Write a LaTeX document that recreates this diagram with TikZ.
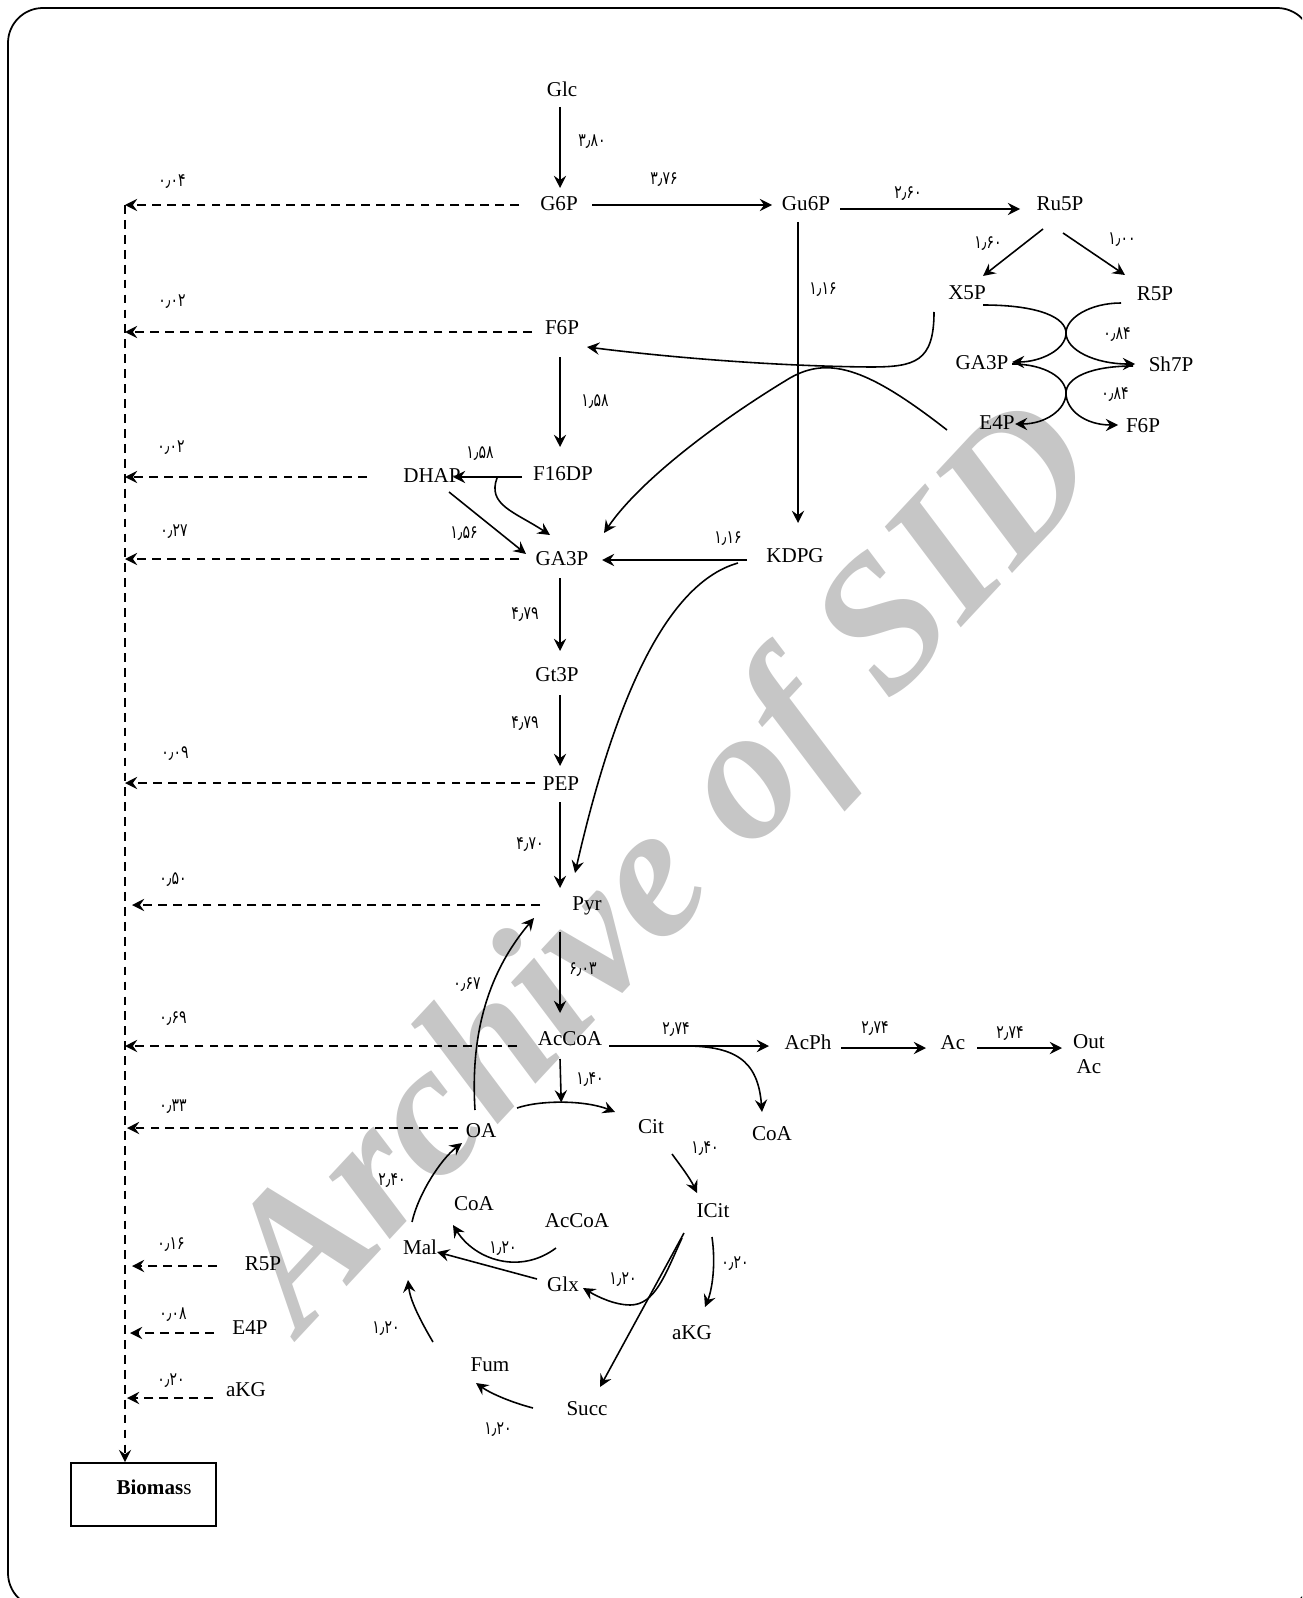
\documentclass[tikz,border=0pt]{standalone}
\usepackage{fontspec}
\setmainfont{Liberation Serif}
\newfontfamily\fa{DejaVu Sans}[FakeStretch=0.76]
\usetikzlibrary{arrows.meta,calc}
\definecolor{wmgray}{RGB}{198,198,198}
\begin{document}
\begin{tikzpicture}[x=0.02cm,y=-0.02cm,
  met/.style={inner sep=0pt, font=\fontsize{12}{14}\selectfont, text height=8pt, text depth=0pt},
  num/.style={inner sep=0pt, font=\fa\fontsize{10.5}{12}\selectfont, text height=7.5pt, text depth=0pt},
  arr/.style={line width=0.9pt, -{Stealth[length=7pt,width=7pt,inset=2.5pt]}},
  darr/.style={line width=0.9pt, dash pattern=on 5pt off 3.5pt, -{Stealth[length=7pt,width=7pt,inset=2.5pt]}},
  ln/.style={line width=0.9pt}]
\useasboundingbox (0,0) rectangle (1302,1598);
\clip (0,0) rectangle (1302,1598);
% watermark
\node[text=wmgray, inner sep=0pt, rotate=47, font=\fontsize{108}{108}\selectfont\bfseries\itshape] (wmk) at (670,872) {Archive of SID};
% frame
\draw[line width=1pt, rounded corners=0.7cm] (8,8) rectangle (1312,1608);

% metabolites
\node[met] (Glc) at (562,89) {Glc};
\node[met] (G6P) at (559,203) {G6P};
\node[met] (Gu6P) at (806,203) {Gu6P};
\node[met] (Ru5P) at (1060,203) {Ru5P};
\node[met] (X5P) at (967,292) {X5P};
\node[met] (R5P) at (1155,293) {R5P};
\node[met] (GA3Pr) at (982,362) {GA3P};
\node[met] (Sh7P) at (1171,364) {Sh7P};
\node[met] (E4Pr) at (997,422) {E4P};
\node[met] (F6Pr) at (1143,425) {F6P};
\node[met] (F6P) at (562,327) {F6P};
\node[met] (F16DP) at (563,473) {F16DP};
\node[met] (DHAP) at (432,475) {DHAP};
\node[met] (GA3P) at (562,558) {GA3P};
\node[met] (KDPG) at (795,555) {KDPG};
\node[met] (Gt3P) at (557,674) {Gt3P};
\node[met] (PEP) at (561,783) {PEP};
\node[met] (Pyr) at (587,903) {Pyr};
\node[met] (AcCoA) at (570,1038) {AcCoA};
\node[met] (AcPh) at (808,1042) {AcPh};
\node[met] (Ac) at (953,1042) {Ac};
\node[inner sep=0pt, align=center, font=\fontsize{12}{14.2}\selectfont] (OutAc) at (1089,1054) {Out\\Ac};
\node[met] (CoAr) at (772,1133) {CoA};
\node[met] (OA) at (481,1130) {OA};
\node[met] (Cit) at (651,1126) {Cit};
\node[met] (ICit) at (713,1210) {ICit};
\node[met] (aKGr) at (692,1332) {aKG};
\node[met] (CoAl) at (474,1203) {CoA};
\node[met] (AcCoAl) at (577,1220) {AcCoA};
\node[met] (Mal) at (420,1247) {Mal};
\node[met] (Glx) at (563,1284) {Glx};
\node[met] (Fum) at (490,1364) {Fum};
\node[met] (Succ) at (587,1408) {Succ};
\node[met] (R5Pl) at (263,1263) {R5P};
\node[met] (E4Pl) at (250,1327) {E4P};
\node[met] (aKGl) at (246,1389) {aKG};
\node[draw, line width=1pt, minimum width=2.9cm, minimum height=1.26cm, inner sep=0pt, font=\fontsize{12}{14}\selectfont] (bio) at (143.5,1494.5) {\hspace*{0.42cm}\raisebox{0.3cm}{\textbf{Biomas}s}};

% flux labels
\node[num] (l380) at (592,140) {۳٫۸۰};
\node[num] (l376) at (664,178) {۳٫۷۶};
\node[num] (l260) at (908,192) {۲٫۶۰};
\node[num] (l160) at (988,242) {۱٫۶۰};
\node[num] (l100) at (1122,238) {۱٫۰۰};
\node[num] (l116a) at (823,288) {۱٫۱۶};
\node[num] (l084a) at (1117,333) {۰٫۸۴};
\node[num] (l084b) at (1115,393) {۰٫۸۴};
\node[num] (l158a) at (595,400) {۱٫۵۸};
\node[num] (l158b) at (480,452) {۱٫۵۸};
\node[num] (l156) at (464,532) {۱٫۵۶};
\node[num] (l116b) at (728,537) {۱٫۱۶};
\node[num] (l479a) at (525,613) {۴٫۷۹};
\node[num] (l479b) at (525,722) {۴٫۷۹};
\node[num] (l470) at (530,843) {۴٫۷۰};
\node[num] (l603) at (583,968) {۶٫۰۳};
\node[num] (l067) at (467,983) {۰٫۶۷};
\node[num] (l140a) at (590,1078) {۱٫۴۰};
\node[num] (l274a) at (676,1028) {۲٫۷۴};
\node[num] (l274b) at (875,1027) {۲٫۷۴};
\node[num] (l274c) at (1010,1032) {۲٫۷۴};
\node[num] (l140b) at (705,1147) {۱٫۴۰};
\node[num] (l020a) at (735,1262) {۰٫۲۰};
\node[num] (l120a) at (623,1278) {۱٫۲۰};
\node[num] (l120b) at (503,1247) {۱٫۲۰};
\node[num] (l240) at (392,1179) {۲٫۴۰};
\node[num] (l120c) at (386,1327) {۱٫۲۰};
\node[num] (l120d) at (498,1428) {۱٫۲۰};
\node[num] (d004) at (172,180) {۰٫۰۴};
\node[num] (d002a) at (172,300) {۰٫۰۲};
\node[num] (d002b) at (171,446) {۰٫۰۲};
\node[num] (d027) at (174,530) {۰٫۲۷};
\node[num] (d009) at (175,752) {۰٫۰۹};
\node[num] (d050) at (173,878) {۰٫۵۰};
\node[num] (d069) at (173,1017) {۰٫۶۹};
\node[num] (d033) at (173,1105) {۰٫۳۳};
\node[num] (d016) at (171,1243) {۰٫۱۶};
\node[num] (d008) at (173,1313) {۰٫۰۸};
\node[num] (d020) at (171,1379) {۰٫۲۰};

% biomass spine
\coordinate (spTop) at (125,205);
\coordinate (b2) at (125,332);
\coordinate (b3) at (125,477);
\coordinate (b4) at (125,559);
\coordinate (b5) at (125,783);
\coordinate (b6) at (132,905);
\coordinate (b7) at (125,1046);
\coordinate (b8) at (127,1128);
\coordinate (b9) at (132,1266);
\coordinate (b10) at (130,1333);
\coordinate (b11) at (127,1398);
\draw[darr] (spTop) -- (spTop |- bio.north);
\draw[darr] ($(G6P)+(-40,2)$) -- (spTop);
\draw[darr] ($(F6P)+(-30,5)$) -- (b2);
\draw[darr] ($(DHAP)+(-65,2)$) -- (b3);
\draw[darr] ($(GA3P)+(-43,1)$) -- (b4);
\draw[darr] ($(PEP)+(-26,0)$) -- (b5);
\draw[darr] ($(Pyr)+(-47,2)$) -- (b6);
\draw[darr] ($(AcCoA)+(-53,8)$) -- (b7);
\draw[darr] ($(OA)+(-23,-2)$) -- (b8);
\draw[darr] ($(R5Pl)+(-46,3)$) -- (b9);
\draw[darr] ($(E4Pl)+(-36,6)$) -- (b10);
\draw[darr] ($(aKGl)+(-33,9)$) -- (b11);

% glycolysis / PP
\draw[arr] ($(Glc)+(-2,18)$) -- ($(G6P)+(1,-15)$);
\draw[arr] ($(G6P)+(33,2)$) -- ($(Gu6P)+(-34,2)$);
\draw[arr] ($(Gu6P)+(34,6)$) -- ($(Ru5P)+(-40,6)$);
\draw[arr] ($(Ru5P)+(-17,26)$) -- ($(X5P)+(16,-16)$);
\draw[arr] ($(Ru5P)+(3,30)$) -- ($(R5P)+(-30,-18)$);
\draw[arr] ($(X5P)+(16,13)$) .. controls (1040,305) and (1066,318) .. (1066,333) .. controls (1066,350) and (1095,364) .. ($(Sh7P)+(-36,0)$);
\draw[arr] ($(R5P)+(-34,10)$) .. controls (1090,303) and (1066,318) .. (1066,333) .. controls (1066,350) and (1040,362) .. ($(GA3Pr)+(30,0)$);
\draw[arr] ($(GA3Pr)+(30,2)$) .. controls (1045,364) and (1066,378) .. (1066,393) .. controls (1066,410) and (1085,425) .. ($(F6Pr)+(-25,0)$);
\draw[arr] ($(Sh7P)+(-38,2)$) .. controls (1090,366) and (1066,378) .. (1066,393) .. controls (1066,410) and (1045,424) .. ($(E4Pr)+(18,2)$);
\draw[arr] ($(X5P)+(-33,20)$) .. controls (934,362) and (915,367) .. (870,367) .. controls (760,366) and (650,355) .. ($(F6P)+(25,20)$);
\draw[arr] ($(E4Pr)+(-50,8)$) .. controls (870,370) and (830,355) .. (790,378) .. controls (720,420) and (640,480) .. ($(GA3P)+(42,-25)$);
\draw[arr] ($(F6P)+(-2,30)$) -- ($(F16DP)+(-3,-26)$);
\draw[arr] ($(F16DP)+(-41,4)$) -- ($(DHAP)+(21,2)$);
\draw[arr] ($(F16DP)+(-66,5)$) .. controls (487,505) and (515,512) .. ($(GA3P)+(-12,-23)$);
\draw[arr] ($(DHAP)+(17,17)$) -- ($(GA3P)+(-36,-4)$);
\draw[arr] ($(KDPG)+(-48,5)$) -- ($(GA3P)+(40,2)$);
\draw[arr] ($(Gu6P)+(-8,19)$) -- ($(KDPG)+(3,-32)$);
\draw[arr] ($(KDPG)+(-57,8)$) .. controls (660,585) and (610,720) .. ($(Pyr)+(-12,-30)$);
\draw[arr] ($(GA3P)+(-2,20)$) -- ($(Gt3P)+(3,-23)$);
\draw[arr] ($(Gt3P)+(3,21)$) -- ($(PEP)+(-1,-17)$);
\draw[arr] ($(PEP)+(-1,19)$) -- ($(Pyr)+(-27,-15)$);
\draw[arr] ($(Pyr)+(-27,29)$) -- ($(AcCoA)+(-10,-25)$);
\draw[arr] ($(OA)+(-6,-20)$) .. controls (470,1030) and (490,970) .. ($(Pyr)+(-53,15)$);

% acetate branch
\draw[arr] ($(AcCoA)+(39,8)$) -- coordinate[pos=0.44] (coaStart) ($(AcPh)+(-39,4)$);
\draw[arr] (coaStart) .. controls (735,1045) and (758,1060) .. ($(CoAr)+(-10,-21)$);
\draw[arr] ($(AcPh)+(33,6)$) -- ($(Ac)+(-27,6)$);
\draw[arr] ($(Ac)+(24,6)$) -- ($(OutAc)+(-27,-6)$);

% TCA cycle
\draw[arr] ($(OA)+(36,-22)$) .. controls (540,1100) and (585,1100) .. coordinate[pos=0.48] (arcTop) ($(Cit)+(-36,-14)$);
\draw[arr] ($(AcCoA)+(-10,21)$) -- (arcTop);
\draw[arr] ($(Cit)+(21,28)$) .. controls (680,1165) and (690,1178) .. ($(ICit)+(-16,-17)$);
\draw[arr] ($(ICit)+(-1,27)$) .. controls (716,1265) and (712,1290) .. ($(aKGr)+(13,-25)$);
\draw[arr] ($(ICit)+(-29,23)$) -- ($(Succ)+(13,-21)$);
\draw[arr] ($(ICit)+(-31,28)$) .. controls (665,1275) and (655,1305) .. (630,1305) .. controls (615,1305) and (598,1297) .. ($(Glx)+(20,4)$);
\draw[arr] ($(Glx)+(-26,-5)$) -- ($(Mal)+(17,5)$);
\draw[arr] ($(AcCoAl)+(-21,28)$) .. controls (520,1275) and (475,1260) .. ($(CoAl)+(-21,22)$);
\draw[arr] ($(Mal)+(-8,-25)$) .. controls (418,1195) and (440,1160) .. ($(OA)+(-19,13)$);
\draw[arr] ($(Fum)+(-57,-22)$) .. controls (420,1320) and (410,1300) .. ($(Mal)+(-12,33)$);
\draw[arr] ($(Succ)+(-54,0)$) .. controls (510,1402) and (490,1393) .. ($(Fum)+(-14,19)$);
\end{tikzpicture}
\end{document}
